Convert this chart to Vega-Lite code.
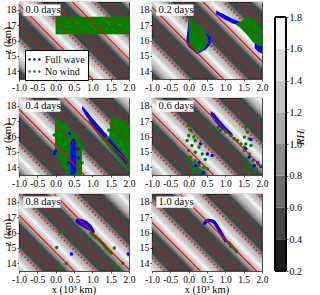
{
"$schema": "https://vega.github.io/schema/vega-lite/v6.json",
"padding": {"left": 2, "top": 1, "right": 0, "bottom": 0},
"config": {
  "font": "Liberation Serif",
  "view": {"fill": "#464646", "stroke": "black", "strokeWidth": 0.8},
  "axis": {"labelFontSize": 10, "labelColor": "black", "domain": false, "grid": false, "tickSize": 2, "tickColor": "black", "tickWidth": 0.7, "labelPadding": 1, "labelOverlap": false, "labelFlush": false},
  "header": {"labelFont": "Liberation Serif", "labelFontSize": 10.5, "labelColor": "black"}
},
"hconcat": [
{
  "data": {"values": [
{"p":"0.0 days","t":"lab"},{"p":"0.2 days","t":"lab"},{"p":"0.4 days","t":"lab"},{"p":"0.6 days","t":"lab"},{"p":"0.8 days","t":"lab"},{"p":"1.0 days","t":"lab"},
{"p":"0.0 days","t":"s","z":20.72,"z2":8.72},{"p":"0.0 days","t":"s","z":24.4,"z2":12.4},
{"p":"0.0 days","t":"d","z":18.39,"z2":6.39},{"p":"0.0 days","t":"d","z":19.37,"z2":7.37},{"p":"0.0 days","t":"d","z":22.07,"z2":10.07},{"p":"0.0 days","t":"d","z":23.05,"z2":11.05},{"p":"0.0 days","t":"d","z":25.75,"z2":13.75},{"p":"0.0 days","t":"d","z":26.73,"z2":14.73},
{"p":"0.0 days","t":"b","z":17.6,"z2":5.6},{"p":"0.0 days","t":"b","z":21.28,"z2":9.28},{"p":"0.0 days","t":"b","z":24.96,"z2":12.96},{"p":"0.0 days","t":"b","z":28.64,"z2":16.64},
{"p":"0.2 days","t":"s","z":20.57,"z2":8.57},{"p":"0.2 days","t":"s","z":24.25,"z2":12.25},
{"p":"0.2 days","t":"d","z":18.24,"z2":6.24},{"p":"0.2 days","t":"d","z":19.22,"z2":7.22},{"p":"0.2 days","t":"d","z":21.92,"z2":9.92},{"p":"0.2 days","t":"d","z":22.9,"z2":10.9},{"p":"0.2 days","t":"d","z":25.6,"z2":13.6},{"p":"0.2 days","t":"d","z":26.58,"z2":14.58},
{"p":"0.2 days","t":"b","z":17.45,"z2":5.45},{"p":"0.2 days","t":"b","z":21.13,"z2":9.13},{"p":"0.2 days","t":"b","z":24.81,"z2":12.81},{"p":"0.2 days","t":"b","z":28.49,"z2":16.49},
{"p":"0.4 days","t":"s","z":20.18,"z2":8.18},{"p":"0.4 days","t":"s","z":23.86,"z2":11.86},
{"p":"0.4 days","t":"d","z":17.85,"z2":5.85},{"p":"0.4 days","t":"d","z":18.83,"z2":6.83},{"p":"0.4 days","t":"d","z":21.53,"z2":9.53},{"p":"0.4 days","t":"d","z":22.51,"z2":10.51},{"p":"0.4 days","t":"d","z":25.21,"z2":13.21},{"p":"0.4 days","t":"d","z":26.19,"z2":14.19},
{"p":"0.4 days","t":"b","z":17.06,"z2":5.06},{"p":"0.4 days","t":"b","z":20.74,"z2":8.74},{"p":"0.4 days","t":"b","z":24.42,"z2":12.42},{"p":"0.4 days","t":"b","z":28.1,"z2":16.1},
{"p":"0.6 days","t":"s","z":19.93,"z2":7.93},{"p":"0.6 days","t":"s","z":23.61,"z2":11.61},
{"p":"0.6 days","t":"d","z":17.6,"z2":5.6},{"p":"0.6 days","t":"d","z":18.58,"z2":6.58},{"p":"0.6 days","t":"d","z":21.28,"z2":9.28},{"p":"0.6 days","t":"d","z":22.26,"z2":10.26},{"p":"0.6 days","t":"d","z":24.96,"z2":12.96},{"p":"0.6 days","t":"d","z":25.94,"z2":13.94},
{"p":"0.6 days","t":"b","z":16.81,"z2":4.81},{"p":"0.6 days","t":"b","z":20.49,"z2":8.49},{"p":"0.6 days","t":"b","z":24.17,"z2":12.17},{"p":"0.6 days","t":"b","z":27.85,"z2":15.85},
{"p":"0.8 days","t":"s","z":19.52,"z2":7.52},{"p":"0.8 days","t":"s","z":23.2,"z2":11.2},
{"p":"0.8 days","t":"d","z":17.19,"z2":5.19},{"p":"0.8 days","t":"d","z":18.17,"z2":6.17},{"p":"0.8 days","t":"d","z":20.87,"z2":8.87},{"p":"0.8 days","t":"d","z":21.85,"z2":9.85},{"p":"0.8 days","t":"d","z":24.55,"z2":12.55},{"p":"0.8 days","t":"d","z":25.53,"z2":13.53},
{"p":"0.8 days","t":"b","z":16.4,"z2":4.4},{"p":"0.8 days","t":"b","z":20.08,"z2":8.08},{"p":"0.8 days","t":"b","z":23.76,"z2":11.76},{"p":"0.8 days","t":"b","z":27.44,"z2":15.44},
{"p":"1.0 days","t":"s","z":19.06,"z2":7.06},{"p":"1.0 days","t":"s","z":22.74,"z2":10.74},
{"p":"1.0 days","t":"d","z":16.73,"z2":4.73},{"p":"1.0 days","t":"d","z":17.71,"z2":5.71},{"p":"1.0 days","t":"d","z":20.41,"z2":8.41},{"p":"1.0 days","t":"d","z":21.39,"z2":9.39},{"p":"1.0 days","t":"d","z":24.09,"z2":12.09},{"p":"1.0 days","t":"d","z":25.07,"z2":13.07},{"p":"1.0 days","t":"d","z":27.77,"z2":15.77},
{"p":"1.0 days","t":"b","z":15.94,"z2":3.94},{"p":"1.0 days","t":"b","z":19.62,"z2":7.62},{"p":"1.0 days","t":"b","z":23.3,"z2":11.3},{"p":"1.0 days","t":"b","z":26.98,"z2":14.98},

{"p":"0.0 days","t":"ag","s":"No wind","g":"g00","x":0.0,"z":16.4,"z2":17.55},{"p":"0.0 days","t":"ag","s":"No wind","g":"g00","x":2.0,"z":16.4,"z2":17.55},

{"p":"0.2 days","t":"au","s":"Full wave","g":"b02a","x":-0.06,"z":15.8,"z2":16.1},{"p":"0.2 days","t":"au","s":"Full wave","g":"b02a","x":0.0,"z":15.6,"z2":17.3},{"p":"0.2 days","t":"au","s":"Full wave","g":"b02a","x":0.23,"z":15.1,"z2":17.0},{"p":"0.2 days","t":"au","s":"Full wave","g":"b02a","x":0.46,"z":15.4,"z2":16.45},{"p":"0.2 days","t":"au","s":"Full wave","g":"b02a","x":0.6,"z":15.75,"z2":16.25},
{"p":"0.2 days","t":"au","s":"Full wave","g":"b02b","x":0.75,"z":17.7,"z2":17.95},{"p":"0.2 days","t":"au","s":"Full wave","g":"b02b","x":1.0,"z":17.35,"z2":17.65},{"p":"0.2 days","t":"au","s":"Full wave","g":"b02b","x":1.2,"z":17.1,"z2":17.4},{"p":"0.2 days","t":"au","s":"Full wave","g":"b02b","x":1.42,"z":16.95,"z2":17.2},
{"p":"0.2 days","t":"au","s":"Full wave","g":"b02c","x":1.8,"z":15.5,"z2":15.9},{"p":"0.2 days","t":"au","s":"Full wave","g":"b02c","x":1.9,"z":15.25,"z2":15.8},{"p":"0.2 days","t":"au","s":"Full wave","g":"b02c","x":2.0,"z":15.15,"z2":15.8},
{"p":"0.2 days","t":"ag","s":"No wind","g":"g02a","x":0.0,"z":15.85,"z2":17.35},{"p":"0.2 days","t":"ag","s":"No wind","g":"g02a","x":0.1,"z":15.5,"z2":17.25},{"p":"0.2 days","t":"ag","s":"No wind","g":"g02a","x":0.23,"z":15.2,"z2":17.05},{"p":"0.2 days","t":"ag","s":"No wind","g":"g02a","x":0.35,"z":15.3,"z2":16.8},{"p":"0.2 days","t":"ag","s":"No wind","g":"g02a","x":0.46,"z":15.55,"z2":16.45},{"p":"0.2 days","t":"ag","s":"No wind","g":"g02a","x":0.53,"z":15.9,"z2":16.2},
{"p":"0.2 days","t":"ag","s":"No wind","g":"g02b","x":1.3,"z":17.0,"z2":17.1},{"p":"0.2 days","t":"ag","s":"No wind","g":"g02b","x":1.4,"z":16.85,"z2":17.2},{"p":"0.2 days","t":"ag","s":"No wind","g":"g02b","x":1.5,"z":16.6,"z2":17.35},{"p":"0.2 days","t":"ag","s":"No wind","g":"g02b","x":1.6,"z":16.35,"z2":17.5},{"p":"0.2 days","t":"ag","s":"No wind","g":"g02b","x":1.75,"z":15.9,"z2":17.4},{"p":"0.2 days","t":"ag","s":"No wind","g":"g02b","x":1.9,"z":15.65,"z2":17.05},{"p":"0.2 days","t":"ag","s":"No wind","g":"g02b","x":2.0,"z":15.65,"z2":16.75},

{"p":"0.4 days","t":"ag","s":"No wind","g":"g04a","x":-0.02,"z":14.87,"z2":17.27},{"p":"0.4 days","t":"ag","s":"No wind","g":"g04a","x":0.1,"z":14.5,"z2":17.05},{"p":"0.4 days","t":"ag","s":"No wind","g":"g04a","x":0.3,"z":13.5,"z2":16.7},{"p":"0.4 days","t":"ag","s":"No wind","g":"g04a","x":0.5,"z":13.5,"z2":16.3},{"p":"0.4 days","t":"ag","s":"No wind","g":"g04a","x":0.65,"z":13.5,"z2":15.9},{"p":"0.4 days","t":"ag","s":"No wind","g":"g04a","x":0.72,"z":13.5,"z2":15.5},
{"p":"0.4 days","t":"ag","s":"No wind","g":"g04b","x":0.9,"z":16.9,"z2":17.3},{"p":"0.4 days","t":"ag","s":"No wind","g":"g04b","x":1.2,"z":16.0,"z2":16.4},{"p":"0.4 days","t":"ag","s":"No wind","g":"g04b","x":1.45,"z":15.25,"z2":15.75},{"p":"0.4 days","t":"ag","s":"No wind","g":"g04b","x":1.5,"z":15.1,"z2":17.15},{"p":"0.4 days","t":"ag","s":"No wind","g":"g04b","x":1.6,"z":14.85,"z2":17.2},{"p":"0.4 days","t":"ag","s":"No wind","g":"g04b","x":1.8,"z":14.3,"z2":17.05},{"p":"0.4 days","t":"ag","s":"No wind","g":"g04b","x":2.0,"z":13.8,"z2":16.9},
{"p":"0.4 days","t":"ao","s":"Full wave","g":"b04a","x":0.4,"z":13.5,"z2":15.5},{"p":"0.4 days","t":"ao","s":"Full wave","g":"b04a","x":0.45,"z":13.5,"z2":15.85},{"p":"0.4 days","t":"ao","s":"Full wave","g":"b04a","x":0.5,"z":13.55,"z2":15.9},{"p":"0.4 days","t":"ao","s":"Full wave","g":"b04a","x":0.56,"z":13.7,"z2":15.6},
{"p":"0.4 days","t":"ao","s":"Full wave","g":"b04b","x":0.72,"z":17.75,"z2":18.0},{"p":"0.4 days","t":"ao","s":"Full wave","g":"b04b","x":0.85,"z":17.25,"z2":17.65},{"p":"0.4 days","t":"ao","s":"Full wave","g":"b04b","x":1.0,"z":16.8,"z2":17.2},{"p":"0.4 days","t":"ao","s":"Full wave","g":"b04b","x":1.2,"z":16.25,"z2":16.65},{"p":"0.4 days","t":"ao","s":"Full wave","g":"b04b","x":1.4,"z":15.7,"z2":16.1},{"p":"0.4 days","t":"ao","s":"Full wave","g":"b04b","x":1.6,"z":15.1,"z2":15.5},{"p":"0.4 days","t":"ao","s":"Full wave","g":"b04b","x":1.8,"z":14.55,"z2":14.95},{"p":"0.4 days","t":"ao","s":"Full wave","g":"b04b","x":1.95,"z":14.15,"z2":14.45},
{"p":"0.4 days","t":"pt","s":"Full wave","x":-0.03,"z":14.9},{"p":"0.4 days","t":"pt","s":"Full wave","x":-0.01,"z":15.05},{"p":"0.4 days","t":"pt","s":"Full wave","x":0.38,"z":16.2},{"p":"0.4 days","t":"pt","s":"Full wave","x":0.62,"z":15.2},{"p":"0.4 days","t":"pt","s":"Full wave","x":0.63,"z":14.6},{"p":"0.4 days","t":"pt","s":"Full wave","x":0.35,"z":14.3},
{"p":"0.4 days","t":"pt","s":"No wind","x":0.75,"z":15.3},{"p":"0.4 days","t":"pt","s":"No wind","x":0.72,"z":14.3},{"p":"0.4 days","t":"pt","s":"No wind","x":1.45,"z":16.4},{"p":"0.4 days","t":"pt","s":"No wind","x":1.4,"z":15.9},{"p":"0.4 days","t":"pt","s":"No wind","x":-0.04,"z":16.1},

{"p":"0.6 days","t":"ao","s":"Full wave","g":"b06","x":0.6,"z":17.35,"z2":17.65},{"p":"0.6 days","t":"ao","s":"Full wave","g":"b06","x":0.7,"z":17.0,"z2":17.5},{"p":"0.6 days","t":"ao","s":"Full wave","g":"b06","x":0.85,"z":16.6,"z2":17.05},{"p":"0.6 days","t":"ao","s":"Full wave","g":"b06","x":1.0,"z":16.3,"z2":16.65},{"p":"0.6 days","t":"ao","s":"Full wave","g":"b06","x":1.15,"z":16.05,"z2":16.3},{"p":"0.6 days","t":"ao","s":"Full wave","g":"b06","x":1.2,"z":16.05,"z2":16.15},
{"p":"0.6 days","t":"pt","s":"No wind","x":0.0,"z":16.73},{"p":"0.6 days","t":"pt","s":"No wind","x":0.05,"z":16.4},{"p":"0.6 days","t":"pt","s":"No wind","x":0.0,"z":16.07},{"p":"0.6 days","t":"pt","s":"No wind","x":0.14,"z":15.96},{"p":"0.6 days","t":"pt","s":"No wind","x":-0.04,"z":15.74},{"p":"0.6 days","t":"pt","s":"No wind","x":0.18,"z":15.74},{"p":"0.6 days","t":"pt","s":"No wind","x":0.09,"z":15.41},{"p":"0.6 days","t":"pt","s":"No wind","x":0.28,"z":15.3},{"p":"0.6 days","t":"pt","s":"No wind","x":0.0,"z":15.09},{"p":"0.6 days","t":"pt","s":"No wind","x":0.18,"z":14.98},{"p":"0.6 days","t":"pt","s":"No wind","x":0.37,"z":14.87},{"p":"0.6 days","t":"pt","s":"No wind","x":0.05,"z":14.65},{"p":"0.6 days","t":"pt","s":"No wind","x":0.18,"z":14.43},{"p":"0.6 days","t":"pt","s":"No wind","x":0.0,"z":14.32},{"p":"0.6 days","t":"pt","s":"No wind","x":0.14,"z":14.21},{"p":"0.6 days","t":"pt","s":"No wind","x":0.28,"z":14.1},{"p":"0.6 days","t":"pt","s":"No wind","x":0.05,"z":13.99},{"p":"0.6 days","t":"pt","s":"No wind","x":0.18,"z":13.89},{"p":"0.6 days","t":"pt","s":"No wind","x":0.32,"z":13.78},{"p":"0.6 days","t":"pt","s":"No wind","x":0.41,"z":13.99},{"p":"0.6 days","t":"pt","s":"No wind","x":0.51,"z":13.89},{"p":"0.6 days","t":"pt","s":"No wind","x":0.1,"z":13.7},{"p":"0.6 days","t":"pt","s":"No wind","x":0.25,"z":13.65},{"p":"0.6 days","t":"pt","s":"No wind","x":0.4,"z":13.7},{"p":"0.6 days","t":"pt","s":"No wind","x":0.3,"z":14.3},{"p":"0.6 days","t":"pt","s":"No wind","x":0.45,"z":14.5},{"p":"0.6 days","t":"pt","s":"No wind","x":-0.05,"z":14.6},
{"p":"0.6 days","t":"pt","s":"No wind","x":1.56,"z":16.62},{"p":"0.6 days","t":"pt","s":"No wind","x":1.6,"z":16.29},{"p":"0.6 days","t":"pt","s":"No wind","x":1.52,"z":15.96},{"p":"0.6 days","t":"pt","s":"No wind","x":1.65,"z":15.85},{"p":"0.6 days","t":"pt","s":"No wind","x":1.56,"z":15.52},{"p":"0.6 days","t":"pt","s":"No wind","x":1.7,"z":15.41},{"p":"0.6 days","t":"pt","s":"No wind","x":1.52,"z":15.09},{"p":"0.6 days","t":"pt","s":"No wind","x":1.65,"z":14.87},{"p":"0.6 days","t":"pt","s":"No wind","x":1.56,"z":14.54},{"p":"0.6 days","t":"pt","s":"No wind","x":1.75,"z":14.43},{"p":"0.6 days","t":"pt","s":"No wind","x":1.6,"z":14.21},{"p":"0.6 days","t":"pt","s":"No wind","x":1.7,"z":13.99},{"p":"0.6 days","t":"pt","s":"No wind","x":1.84,"z":13.89},{"p":"0.6 days","t":"pt","s":"No wind","x":1.56,"z":13.78},{"p":"0.6 days","t":"pt","s":"No wind","x":1.9,"z":14.2},{"p":"0.6 days","t":"pt","s":"No wind","x":1.8,"z":13.7},{"p":"0.6 days","t":"pt","s":"No wind","x":1.65,"z":13.65},
{"p":"0.6 days","t":"pt","s":"No wind","x":0.8,"z":16.6},{"p":"0.6 days","t":"pt","s":"No wind","x":0.87,"z":16.4},{"p":"0.6 days","t":"pt","s":"No wind","x":1.01,"z":16.29},{"p":"0.6 days","t":"pt","s":"No wind","x":1.15,"z":16.07},{"p":"0.6 days","t":"pt","s":"No wind","x":1.24,"z":15.85},{"p":"0.6 days","t":"pt","s":"No wind","x":1.33,"z":15.74},{"p":"0.6 days","t":"pt","s":"No wind","x":1.42,"z":15.52},{"p":"0.6 days","t":"pt","s":"No wind","x":1.52,"z":15.3},
{"p":"0.6 days","t":"pt","s":"Full wave","x":0.32,"z":15.52},{"p":"0.6 days","t":"pt","s":"Full wave","x":0.51,"z":14.87},{"p":"0.6 days","t":"pt","s":"Full wave","x":0.64,"z":14.76},{"p":"0.6 days","t":"pt","s":"Full wave","x":0.28,"z":14.32},{"p":"0.6 days","t":"pt","s":"Full wave","x":0.41,"z":13.67},{"p":"0.6 days","t":"pt","s":"Full wave","x":0.2,"z":14.1},
{"p":"0.6 days","t":"pt","s":"Full wave","x":1.56,"z":15.2},{"p":"0.6 days","t":"pt","s":"Full wave","x":1.65,"z":14.65},{"p":"0.6 days","t":"pt","s":"Full wave","x":1.79,"z":14.1},{"p":"0.6 days","t":"pt","s":"Full wave","x":1.88,"z":14.32},{"p":"0.6 days","t":"pt","s":"Full wave","x":1.97,"z":14.05},{"p":"0.6 days","t":"pt","s":"Full wave","x":1.7,"z":15.8},

{"p":"0.8 days","t":"ao","s":"Full wave","g":"b08","x":0.55,"z":16.65,"z2":16.9},{"p":"0.8 days","t":"ao","s":"Full wave","g":"b08","x":0.7,"z":16.4,"z2":16.9},{"p":"0.8 days","t":"ao","s":"Full wave","g":"b08","x":0.85,"z":16.2,"z2":16.75},{"p":"0.8 days","t":"ao","s":"Full wave","g":"b08","x":0.98,"z":16.0,"z2":16.45},{"p":"0.8 days","t":"ao","s":"Full wave","g":"b08","x":1.06,"z":15.95,"z2":16.15},
{"p":"0.8 days","t":"pt","s":"No wind","x":0.96,"z":15.95},{"p":"0.8 days","t":"pt","s":"No wind","x":1.0,"z":15.85},{"p":"0.8 days","t":"pt","s":"No wind","x":1.04,"z":15.78},{"p":"0.8 days","t":"pt","s":"No wind","x":1.08,"z":15.72},{"p":"0.8 days","t":"pt","s":"No wind","x":1.12,"z":15.65},{"p":"0.8 days","t":"pt","s":"No wind","x":1.16,"z":15.57},{"p":"0.8 days","t":"pt","s":"No wind","x":1.2,"z":15.48},{"p":"0.8 days","t":"pt","s":"No wind","x":1.24,"z":15.38},{"p":"0.8 days","t":"pt","s":"No wind","x":1.28,"z":15.28},{"p":"0.8 days","t":"pt","s":"No wind","x":1.31,"z":15.2},{"p":"0.8 days","t":"pt","s":"No wind","x":1.34,"z":15.12},{"p":"0.8 days","t":"pt","s":"No wind","x":1.37,"z":15.03},{"p":"0.8 days","t":"pt","s":"No wind","x":1.4,"z":14.95},{"p":"0.8 days","t":"pt","s":"No wind","x":1.43,"z":14.88},{"p":"0.8 days","t":"pt","s":"No wind","x":1.46,"z":14.8},{"p":"0.8 days","t":"pt","s":"No wind","x":1.49,"z":14.73},{"p":"0.8 days","t":"pt","s":"No wind","x":1.52,"z":14.66},
{"p":"0.8 days","t":"pt","s":"No wind","x":0.12,"z":16.03},{"p":"0.8 days","t":"pt","s":"No wind","x":0.03,"z":15.02},{"p":"0.8 days","t":"pt","s":"No wind","x":0.29,"z":13.99},{"p":"0.8 days","t":"pt","s":"No wind","x":0.08,"z":13.72},{"p":"0.8 days","t":"pt","s":"No wind","x":0.12,"z":13.75},{"p":"0.8 days","t":"pt","s":"No wind","x":1.6,"z":15.0},{"p":"0.8 days","t":"pt","s":"No wind","x":1.7,"z":16.1},{"p":"0.8 days","t":"pt","s":"No wind","x":1.83,"z":14.0},{"p":"0.8 days","t":"pt","s":"No wind","x":1.65,"z":13.7},{"p":"0.8 days","t":"pt","s":"No wind","x":1.68,"z":13.74},
{"p":"0.8 days","t":"pt","s":"Full wave","x":0.43,"z":14.6},{"p":"0.8 days","t":"pt","s":"Full wave","x":1.98,"z":14.6},

{"p":"1.0 days","t":"pt","s":"Full wave","x":0.44,"z":16.6},{"p":"1.0 days","t":"pt","s":"Full wave","x":0.46,"z":16.68},{"p":"1.0 days","t":"pt","s":"Full wave","x":0.49,"z":16.73},{"p":"1.0 days","t":"pt","s":"Full wave","x":0.52,"z":16.76},{"p":"1.0 days","t":"pt","s":"Full wave","x":0.55,"z":16.78},{"p":"1.0 days","t":"pt","s":"Full wave","x":0.58,"z":16.78},{"p":"1.0 days","t":"pt","s":"Full wave","x":0.61,"z":16.77},{"p":"1.0 days","t":"pt","s":"Full wave","x":0.64,"z":16.75},{"p":"1.0 days","t":"pt","s":"Full wave","x":0.67,"z":16.72},{"p":"1.0 days","t":"pt","s":"Full wave","x":0.7,"z":16.67},{"p":"1.0 days","t":"pt","s":"Full wave","x":0.72,"z":16.6},{"p":"1.0 days","t":"pt","s":"Full wave","x":0.74,"z":16.52},{"p":"1.0 days","t":"pt","s":"Full wave","x":0.76,"z":16.45},{"p":"1.0 days","t":"pt","s":"Full wave","x":0.78,"z":16.37},{"p":"1.0 days","t":"pt","s":"Full wave","x":0.8,"z":16.3},{"p":"1.0 days","t":"pt","s":"Full wave","x":0.82,"z":16.22},{"p":"1.0 days","t":"pt","s":"Full wave","x":0.84,"z":16.15},{"p":"1.0 days","t":"pt","s":"Full wave","x":0.86,"z":16.08},{"p":"1.0 days","t":"pt","s":"Full wave","x":0.88,"z":16.0},{"p":"1.0 days","t":"pt","s":"Full wave","x":0.9,"z":15.9},{"p":"1.0 days","t":"pt","s":"Full wave","x":0.92,"z":15.8},{"p":"1.0 days","t":"pt","s":"Full wave","x":0.94,"z":15.72},{"p":"1.0 days","t":"pt","s":"Full wave","x":0.96,"z":15.64},{"p":"1.0 days","t":"pt","s":"Full wave","x":0.98,"z":15.57},{"p":"1.0 days","t":"pt","s":"Full wave","x":1.0,"z":15.5},{"p":"1.0 days","t":"pt","s":"Full wave","x":1.02,"z":15.46},
{"p":"1.0 days","t":"pt","s":"No wind","x":1.08,"z":15.35},{"p":"1.0 days","t":"pt","s":"No wind","x":1.11,"z":15.28},{"p":"1.0 days","t":"pt","s":"No wind","x":1.14,"z":15.2},{"p":"1.0 days","t":"pt","s":"No wind","x":1.17,"z":15.12},{"p":"1.0 days","t":"pt","s":"No wind","x":1.2,"z":15.05},{"p":"1.0 days","t":"pt","s":"No wind","x":1.23,"z":14.97},{"p":"1.0 days","t":"pt","s":"No wind","x":1.26,"z":14.9},{"p":"1.0 days","t":"pt","s":"No wind","x":1.29,"z":14.82},{"p":"1.0 days","t":"pt","s":"No wind","x":1.31,"z":14.76},{"p":"1.0 days","t":"pt","s":"No wind","x":1.15,"z":15.1}
  ]},
  "transform": [{"lookup": "p", "from": {"data": {"values": [{"p":"0.0 days","r":0,"c":0},{"p":"0.2 days","r":0,"c":1},{"p":"0.4 days","r":1,"c":0},{"p":"0.6 days","r":1,"c":1},{"p":"0.8 days","r":2,"c":0},{"p":"1.0 days","r":2,"c":1}]}, "key": "p", "fields": ["r", "c"]}}],
  "facet": {
    "row": {"field": "r", "type": "ordinal", "header": {"title": null, "labelExpr": "'z (km)'", "labelAngle": -90, "labelPadding": 1}},
    "column": {"field": "c", "type": "ordinal", "header": {"title": null, "labelExpr": "'x (10³ km)'", "labelOrient": "bottom", "labelPadding": 14}}
  },
  "spacing": {"row": 19, "column": 23},
  "bounds": "flush",
  "resolve": {"axis": {"x": "independent", "y": "independent"}},
  "spec": {
    "width": 110, "height": 77,
    "layer": [
      {"transform": [{"filter": "datum.t=='b'"}], "mark": {"type": "rule", "clip": true, "color": "#6b6b6b", "strokeWidth": 23},
       "encoding": {"x": {"datum": -2, "type": "quantitative"}, "x2": {"datum": 3}, "y": {"field": "z", "type": "quantitative"}, "y2": {"field": "z2"}}},
      {"transform": [{"filter": "datum.t=='b'"}], "mark": {"type": "rule", "clip": true, "color": "#8c8c8c", "strokeWidth": 20},
       "encoding": {"x": {"datum": -2}, "x2": {"datum": 3}, "y": {"field": "z", "type": "quantitative"}, "y2": {"field": "z2"}}},
      {"transform": [{"filter": "datum.t=='b'"}], "mark": {"type": "rule", "clip": true, "color": "#aaaaaa", "strokeWidth": 16.5},
       "encoding": {"x": {"datum": -2}, "x2": {"datum": 3}, "y": {"field": "z", "type": "quantitative"}, "y2": {"field": "z2"}}},
      {"transform": [{"filter": "datum.t=='b'"}], "mark": {"type": "rule", "clip": true, "color": "#c4c4c4", "strokeWidth": 12.5},
       "encoding": {"x": {"datum": -2}, "x2": {"datum": 3}, "y": {"field": "z", "type": "quantitative"}, "y2": {"field": "z2"}}},
      {"transform": [{"filter": "datum.t=='b'"}], "mark": {"type": "rule", "clip": true, "color": "#dadada", "strokeWidth": 6.5},
       "encoding": {"x": {"datum": -2}, "x2": {"datum": 3}, "y": {"field": "z", "type": "quantitative"}, "y2": {"field": "z2"}}},
      {"transform": [{"filter": "datum.t=='b'"}], "mark": {"type": "rule", "clip": true, "color": "#f2f2f2", "strokeWidth": 2.5},
       "encoding": {"x": {"datum": -2}, "x2": {"datum": 3}, "y": {"field": "z", "type": "quantitative"}, "y2": {"field": "z2"}}},
      {"transform": [{"filter": "datum.t=='au'"}], "mark": {"type": "area", "orient": "vertical", "clip": true, "opacity": 1},
       "encoding": {"x": {"field": "x", "type": "quantitative", "scale": {"domain": [-1, 2], "nice": false, "zero": false}, "axis": {"tickCount": 7, "labelExpr": "replace(format(datum.value, '.1f'), '−', '-')", "labelFontSize": 9.5, "labelOverlap": false, "labelFlush": false, "title": null}},
                    "y": {"field": "z", "type": "quantitative", "scale": {"domain": [13.5, 18.5], "nice": false, "zero": false}, "axis": {"tickCount": 5, "format": "d", "labelOverlap": false, "labelFlush": false, "title": null}},
                    "y2": {"field": "z2"}, "detail": {"field": "g"},
                    "color": {"field": "s", "type": "nominal", "scale": {"domain": ["Full wave", "No wind"], "range": ["#0000ff", "#008000"]},
                              "legend": {"orient": "none", "legendX": 6, "legendY": 48, "title": null, "symbolType": "M-1,0a0.2,0.2 0 1,0 0.4,0a0.2,0.2 0 1,0 -0.4,0M-0.2,0a0.2,0.2 0 1,0 0.4,0a0.2,0.2 0 1,0 -0.4,0M0.6,0a0.2,0.2 0 1,0 0.4,0a0.2,0.2 0 1,0 -0.4,0", "symbolSize": 150, "symbolStrokeWidth": 0, "fillColor": "white", "strokeColor": "black", "padding": 3, "rowPadding": 0, "labelFontSize": 10, "labelColor": "black", "labelFont": "Liberation Serif"}}}},
      {"transform": [{"filter": "datum.t=='ag'"}], "mark": {"type": "area", "orient": "vertical", "clip": true, "opacity": 1},
       "encoding": {"x": {"field": "x", "type": "quantitative"}, "y": {"field": "z", "type": "quantitative"}, "y2": {"field": "z2"}, "detail": {"field": "g"}, "color": {"field": "s", "type": "nominal"}}},
      {"transform": [{"filter": "datum.t=='ao'"}], "mark": {"type": "area", "orient": "vertical", "clip": true, "opacity": 1},
       "encoding": {"x": {"field": "x", "type": "quantitative"}, "y": {"field": "z", "type": "quantitative"}, "y2": {"field": "z2"}, "detail": {"field": "g"}, "color": {"field": "s", "type": "nominal"}}},
      {"transform": [{"filter": "datum.t=='pt' && datum.s=='No wind'"}], "mark": {"type": "circle", "clip": true, "size": 12, "opacity": 1},
       "encoding": {"x": {"field": "x", "type": "quantitative"}, "y": {"field": "z", "type": "quantitative"}, "color": {"field": "s", "type": "nominal"}}},
      {"transform": [{"filter": "datum.t=='pt' && datum.s=='Full wave'"}], "mark": {"type": "circle", "clip": true, "size": 12, "opacity": 1},
       "encoding": {"x": {"field": "x", "type": "quantitative"}, "y": {"field": "z", "type": "quantitative"}, "color": {"field": "s", "type": "nominal"}}},
      {"transform": [{"filter": "datum.t=='d'"}], "mark": {"type": "rule", "clip": true, "color": "#ff0000", "strokeWidth": 1.5, "strokeDash": [1.5, 2.5]},
       "encoding": {"x": {"datum": -2}, "x2": {"datum": 3}, "y": {"field": "z", "type": "quantitative"}, "y2": {"field": "z2"}}},
      {"transform": [{"filter": "datum.t=='s'"}], "mark": {"type": "rule", "clip": true, "color": "#ff0000", "strokeWidth": 1.2},
       "encoding": {"x": {"datum": -2}, "x2": {"datum": 3}, "y": {"field": "z", "type": "quantitative"}, "y2": {"field": "z2"}}},
      {"transform": [{"filter": "datum.t=='lab'"}], "mark": {"type": "rect", "color": "white"},
       "encoding": {"x": {"datum": -0.88}, "x2": {"datum": 0.13}, "y": {"datum": 17.6}, "y2": {"datum": 18.33}}},
      {"transform": [{"filter": "datum.t=='lab'"}], "mark": {"type": "text", "align": "left", "baseline": "middle", "fontSize": 10.5, "color": "black"},
       "encoding": {"x": {"datum": -0.82}, "y": {"datum": 17.95}, "text": {"field": "p"}}}
    ]
  }
},
{
  "data": {"values": [{"lo":0.2,"hi":0.4},{"lo":0.4,"hi":0.6},{"lo":0.6,"hi":0.8},{"lo":0.8,"hi":1.0},{"lo":1.0,"hi":1.2},{"lo":1.2,"hi":1.4},{"lo":1.4,"hi":1.6},{"lo":1.6,"hi":1.8}]},
  "width": 11, "height": 269,
  "view": {"stroke": null, "fill": null},
  "layer": [
    {"mark": {"type": "rect"},
     "encoding": {"y": {"field": "lo", "type": "quantitative", "scale": {"domain": [0.2, 1.8945], "nice": false, "zero": false},
                        "axis": {"orient": "right", "tickCount": 9, "format": ".1f", "labelOverlap": false, "labelFlush": false, "title": "RHᵢ", "titleFontStyle": "italic", "titleFontWeight": "normal", "titleFontSize": 11, "titleColor": "black", "titleFont": "Liberation Serif", "titleAngle": 270, "titlePadding": 4}},
                  "y2": {"field": "hi"},
                  "fill": {"field": "lo", "type": "ordinal", "scale": {"range": ["#1c1c1c", "#464646", "#6b6b6b", "#8c8c8c", "#aaaaaa", "#c4c4c4", "#dadada", "#f2f2f2"]}, "legend": null}}},
    {"mark": {"type": "rect", "filled": false, "color": "black", "strokeWidth": 0.8},
     "encoding": {"y": {"datum": 0.2}, "y2": {"datum": 1.8}}}
  ]
}
],
"spacing": 5,
"resolve": {"scale": {"color": "independent", "fill": "independent"}}
}
